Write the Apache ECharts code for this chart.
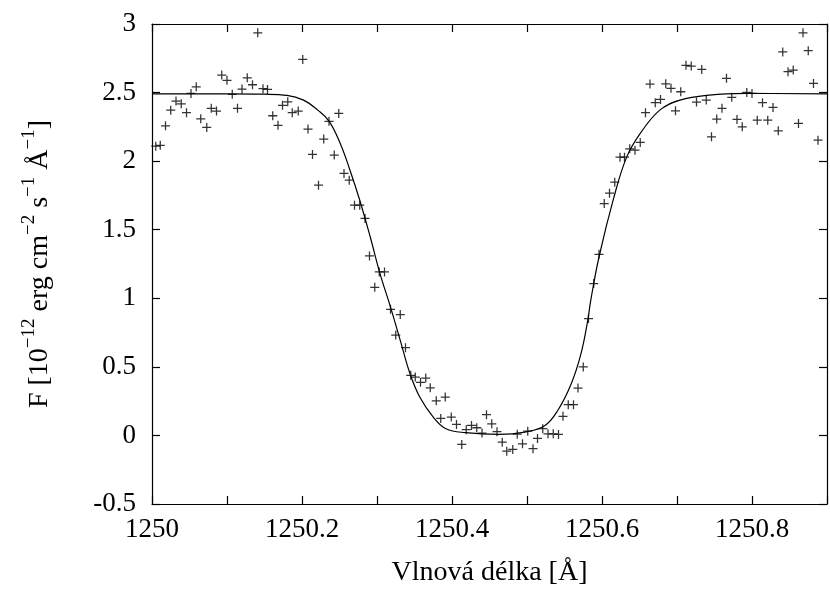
<!DOCTYPE html>
<html>
<head>
<meta charset="utf-8">
<script src="https://cdn.jsdelivr.net/npm/echarts@6/dist/echarts.min.js"></script>
<style>
html,body{margin:0;padding:0;background:#fff;}
#chart{width:830px;height:593px;}
</style>
</head>
<body>
<div id="chart"></div>
<script>
// Observed flux (wavelength, flux)
const obsWave = [
1250.005,1250.011,1250.018,1250.025,1250.032,1250.039,1250.046,1250.052,1250.059,1250.065,
1250.073,1250.079,1250.086,1250.093,1250.100,1250.107,1250.114,1250.120,1250.127,1250.134,
1250.141,1250.148,1250.154,1250.161,1250.168,1250.174,1250.181,1250.187,1250.195,1250.201,
1250.208,1250.214,1250.222,1250.229,1250.236,1250.243,1250.249,1250.256,1250.263,1250.270,
1250.277,1250.284,1250.290,1250.297,1250.303,1250.310,1250.318,1250.325,1250.331,1250.338,
1250.345,1250.351,1250.358,1250.365,1250.371,1250.379,1250.385,1250.391,1250.399,1250.406,
1250.413,1250.419,1250.426,1250.433,1250.440,1250.446,1250.453,1250.460,1250.467,1250.473,
1250.481,1250.487,1250.494,1250.501,1250.508,1250.514,1250.521,1250.528,1250.535,1250.542,
1250.548,1250.555,1250.562,1250.568,1250.575,1250.582,1250.589,1250.596,1250.603,1250.610,
1250.617,1250.624,1250.630,1250.637,1250.644,1250.651,1250.658,1250.664,1250.671,1250.678,
1250.685,1250.692,1250.698,1250.705,1250.712,1250.719,1250.726,1250.733,1250.739,1250.746,
1250.753,1250.760,1250.766,1250.773,1250.780,1250.787,1250.793,1250.800,1250.807,1250.814,
1250.821,1250.828,1250.835,1250.841,1250.848,1250.855,1250.862,1250.868,1250.875,1250.882,
1250.888
];
const obsFlux = [
2.109,2.115,2.258,2.372,2.438,2.418,2.353,2.494,2.542,2.309,
2.246,2.385,2.365,2.628,2.589,2.487,2.385,2.526,2.608,2.557,
2.936,2.528,2.523,2.331,2.261,2.407,2.433,2.353,2.365,2.742,
2.234,2.049,1.825,2.161,2.290,2.044,2.348,1.910,1.861,1.679,
1.679,1.582,1.309,1.080,1.192,1.192,0.920,0.732,0.881,0.640,
0.438,0.426,0.387,0.418,0.347,0.252,0.124,0.280,0.134,0.080,
-0.066,0.042,0.073,0.056,0.017,0.151,0.085,0.027,-0.049,-0.115,
-0.102,0.009,-0.061,0.031,-0.097,-0.022,0.049,0.012,0.012,0.007,
0.139,0.224,0.224,0.345,0.499,0.852,1.107,1.321,1.691,1.766,
1.847,2.029,2.029,2.090,2.080,2.136,2.353,2.562,2.426,2.450,
2.564,2.531,2.367,2.506,2.699,2.693,2.431,2.669,2.445,2.177,
2.307,2.385,2.604,2.465,2.304,2.250,2.501,2.494,2.299,2.426,
2.299,2.392,2.221,2.796,2.652,2.664,2.275,2.936,2.805,2.567,
2.153
];
// Fitted profile
const fitWave = [
1250.000,1250.100,1250.150,1250.180,1250.202,1250.221,1250.236,1250.251,1250.264,1250.277,
1250.291,1250.304,1250.318,1250.331,1250.344,1250.357,1250.375,1250.392,1250.418,1250.462,
1250.497,1250.524,1250.541,1250.559,1250.572,1250.581,1250.585,1250.596,1250.616,1250.633,
1250.651,1250.677,1250.704,1250.743,1250.791,1250.900
];
const fitFlux = [
2.490,2.490,2.488,2.480,2.445,2.372,2.292,2.129,1.934,1.715,
1.447,1.180,0.936,0.693,0.450,0.280,0.134,0.049,0.020,0.007,
0.024,0.073,0.182,0.377,0.596,0.839,0.985,1.301,1.739,2.031,
2.202,2.372,2.445,2.482,2.494,2.490
];
const xTicks = {min: 1250, max: 1250.9, step: 0.1};
const yTicks = {min: -0.5, max: 3, step: 0.5};

const FONT = "'Liberation Serif','Times New Roman',serif";
const obsData = obsWave.map((w, i) => [w, obsFlux[i]]);
const fitData = fitWave.map((w, i) => [w, fitFlux[i]]);

const chart = echarts.init(document.getElementById('chart'), null, {renderer: 'canvas'});
const axisLine = {show: true, onZero: false, lineStyle: {color: '#000', width: 1.2}};
const tick = {show: true, inside: true, length: 8, lineStyle: {color: '#000', width: 1.2}};

chart.setOption({
  animation: false,
  backgroundColor: '#fff',
  grid: {left: 152, top: 24, width: 684, height: 480, containLabel: false},
  xAxis: [{
    type: 'value', min: xTicks.min, max: xTicks.max, interval: xTicks.step,
    axisLine: axisLine, axisTick: tick, splitLine: {show: false},
    axisLabel: {
      margin: 12, color: '#000', fontFamily: FONT, fontSize: 27,
      formatter: function (v) {
        const k = Math.round((v - 1250) * 10);
        if (k % 2 !== 0) return '';
        return k === 0 ? '1250' : (1250 + k / 10).toFixed(1);
      }
    },
    name: 'Vlnová délka [Å]', nameLocation: 'middle', nameGap: 55,
    nameTextStyle: {color: '#000', fontFamily: FONT, fontSize: 28}
  }, {
    type: 'value', position: 'top', min: xTicks.min, max: xTicks.max, interval: xTicks.step,
    axisLine: axisLine, axisTick: tick, axisLabel: {show: false}, splitLine: {show: false}
  }],
  yAxis: [{
    type: 'value', min: yTicks.min, max: yTicks.max, interval: yTicks.step,
    axisLine: axisLine, axisTick: tick, splitLine: {show: false},
    axisLabel: {margin: 16, color: '#000', fontFamily: FONT, fontSize: 27},
    name: '{m|F [10}{s|−12}{m| erg cm}{s|−2}{m| s}{s|−1}{m| Å}{s|−1}{m|]}',
    nameLocation: 'middle', nameRotate: 90, nameGap: 98,
    nameTextStyle: {
      color: '#000', fontFamily: FONT, fontSize: 28,
      rich: {
        m: {color: '#000', fontFamily: FONT, fontSize: 28, lineHeight: 34, verticalAlign: 'bottom'},
        s: {color: '#000', fontFamily: FONT, fontSize: 19, lineHeight: 19, verticalAlign: 'top'}
      }
    }
  }, {
    type: 'value', position: 'right', min: yTicks.min, max: yTicks.max, interval: yTicks.step,
    axisLine: axisLine, axisTick: tick, axisLabel: {show: false}, splitLine: {show: false}
  }],
  series: [{
    type: 'line', data: fitData, smooth: 0.4, showSymbol: false, symbol: 'none',
    lineStyle: {color: '#000', width: 1.2}, clip: true, z: 2
  }, {
    type: 'scatter', data: obsData, symbol: 'path://M0,4.3H10V5.7H0Z M4.3,0H5.7V10H4.3Z',
    symbolSize: 9, itemStyle: {color: '#000'}, clip: true, z: 3
  }]
});
</script>
</body>
</html>
